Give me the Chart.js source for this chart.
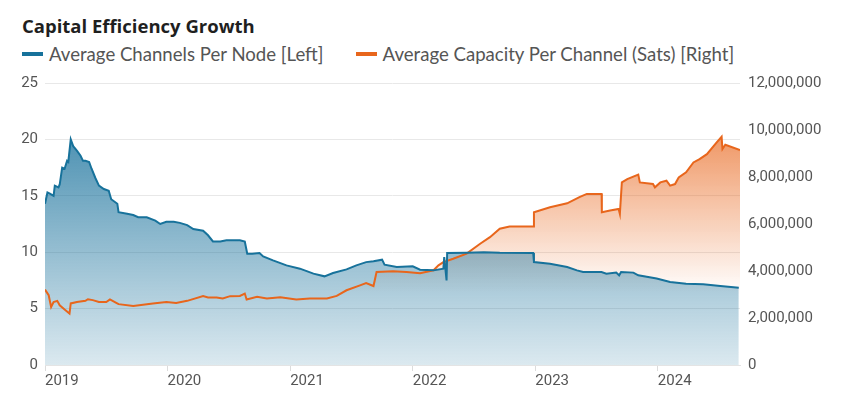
<!DOCTYPE html>
<html>
<head>
<meta charset="utf-8">
<script src="https://cdn.jsdelivr.net/npm/chart.js@4"></script>
<style>
  html, body { margin: 0; padding: 0; background: #fff; }
  #page { position: relative; width: 848px; height: 396px; overflow: hidden; }
  #title { position: absolute; left: 22px; top: 13px; font: bold 18.5px 'Open Sans', sans-serif; color: #1f1f1f; white-space: nowrap; }
  #legend { position: absolute; left: 22px; top: 43px; display: flex; font: 18.6px 'Lato', sans-serif; color: #555; white-space: nowrap; }
  .item { display: flex; align-items: center; margin-right: 32px; }
  .swatch { width: 21px; height: 4px; margin-right: 6px; }
  #wrap { position: absolute; left: 0; top: 66px; width: 848px; height: 330px; }
</style>
</head>
<body>
<div id="page">
  <div id="title">Capital Efficiency Growth</div>
  <div id="legend"></div>
  <div id="wrap"><canvas id="chart"></canvas></div>
</div>
<script>
// values (x = decimal year)
const channelYears = [2019.00, 2019.02, 2019.04, 2019.07, 2019.08, 2019.11, 2019.12, 2019.14, 2019.16, 2019.18, 2019.19, 2019.21,
  2019.23, 2019.26, 2019.29, 2019.31, 2019.33, 2019.36, 2019.38, 2019.41, 2019.44, 2019.48, 2019.52, 2019.54, 2019.59, 2019.60,
  2019.67, 2019.72, 2019.76, 2019.83, 2019.90, 2019.94, 2019.99, 2020.05, 2020.10, 2020.16, 2020.21, 2020.29, 2020.33, 2020.37,
  2020.43, 2020.48, 2020.59, 2020.63, 2020.65, 2020.69, 2020.75, 2020.78, 2020.86, 2020.97, 2021.08, 2021.19, 2021.28, 2021.35,
  2021.46, 2021.54, 2021.62, 2021.68, 2021.75, 2021.77, 2021.87, 2022.00, 2022.06, 2022.17, 2022.25, 2022.257, 2022.276, 2022.281,
  2022.44, 2022.58, 2022.71, 2022.983, 2022.989, 2023.12, 2023.26, 2023.34, 2023.39, 2023.54, 2023.58, 2023.66, 2023.684, 2023.70,
  2023.80, 2023.84, 2023.99, 2024.10, 2024.23, 2024.37, 2024.51, 2024.66];
const channelValues = [14.3, 15.3, 15.2, 15.0, 15.9, 15.75, 16.0, 17.5, 17.4, 18.1, 18.0, 20.0,
  19.4, 19.0, 18.55, 18.1, 18.1, 18.0, 17.4, 16.6, 15.9, 15.6, 15.45, 14.7, 14.3, 13.55,
  13.4, 13.3, 13.1, 13.1, 12.8, 12.5, 12.7, 12.7, 12.6, 12.4, 12.05, 11.9, 11.5, 10.95,
  10.95, 11.05, 11.05, 10.95, 9.87, 9.87, 9.92, 9.63, 9.28, 8.83, 8.54, 8.1, 7.86, 8.15,
  8.48, 8.83, 9.12, 9.19, 9.34, 8.9, 8.68, 8.75, 8.45, 8.39, 8.54, 9.57, 7.5, 9.92,
  9.95, 10.0, 9.95, 9.92, 9.13, 8.98, 8.68, 8.39, 8.24, 8.24, 8.1, 8.19, 7.95, 8.24,
  8.19, 7.95, 7.66, 7.36, 7.21, 7.15, 7.0, 6.85];

const capacityYears = [2019.00, 2019.03, 2019.05, 2019.07, 2019.10, 2019.12, 2019.16, 2019.20, 2019.21, 2019.26, 2019.33, 2019.35,
  2019.39, 2019.44, 2019.50, 2019.53, 2019.57, 2019.60, 2019.72, 2019.88, 2019.99, 2020.07, 2020.16, 2020.29, 2020.33, 2020.40,
  2020.45, 2020.51, 2020.59, 2020.63, 2020.645, 2020.73, 2020.81, 2020.92, 2021.05, 2021.16, 2021.30, 2021.38, 2021.46, 2021.57,
  2021.62, 2021.68, 2021.705, 2021.84, 2021.95, 2022.06, 2022.17, 2022.21, 2022.25, 2022.33, 2022.44, 2022.55, 2022.63, 2022.71,
  2022.79, 2022.983, 2022.989, 2023.12, 2023.26, 2023.36, 2023.42, 2023.541, 2023.543, 2023.61, 2023.68, 2023.69, 2023.706, 2023.75,
  2023.84, 2023.853, 2023.96, 2023.976, 2024.02, 2024.07, 2024.10, 2024.14, 2024.17, 2024.23, 2024.29, 2024.34, 2024.40, 2024.48,
  2024.52, 2024.527, 2024.55, 2024.67];
const capacityValues = [3.21, 2.97, 2.47, 2.68, 2.73, 2.54, 2.36, 2.19, 2.62, 2.68, 2.73, 2.80,
  2.76, 2.68, 2.68, 2.79, 2.68, 2.59, 2.51, 2.62, 2.68, 2.64, 2.73, 2.93, 2.87, 2.87,
  2.83, 2.93, 2.94, 3.04, 2.79, 2.90, 2.83, 2.88, 2.79, 2.83, 2.83, 2.94, 3.18, 3.39,
  3.49, 3.36, 3.96, 3.99, 3.96, 3.90, 4.03, 4.24, 4.38, 4.52, 4.74, 5.16, 5.44, 5.80,
  5.89, 5.89, 6.50, 6.71, 6.88, 7.14, 7.28, 7.28, 6.50, 6.57, 6.64, 6.43, 7.77, 7.91,
  8.10, 7.77, 7.70, 7.56, 7.77, 7.84, 7.63, 7.70, 7.98, 8.20, 8.62, 8.76, 8.97, 9.47,
  9.71, 9.19, 9.37, 9.15].map(v => v * 1000000);

const yearTicks = [2019, 2020, 2021, 2022, 2023, 2024];

const BLUE = "#17729b";
const ORANGE = "#e8661c";
const tickFont = { family: "'Roboto', sans-serif", size: 15 };

function pts(xs, ys) {
  return xs.map((x, i) => ({ x: x, y: ys[i] }));
}

function blueFill(ctx) {
  const area = ctx.chart.chartArea;
  if (!area) return "rgba(23,114,155,0.4)";
  const g = ctx.chart.ctx.createLinearGradient(0, area.top, 0, area.bottom);
  g.addColorStop(0, "rgba(16,108,152,0.88)");
  g.addColorStop(1, "rgba(16,108,152,0.15)");
  return g;
}

function orangeFill(ctx) {
  const area = ctx.chart.chartArea;
  if (!area) return "rgba(232,102,28,0.3)";
  const g = ctx.chart.ctx.createLinearGradient(0, area.top, 0, area.bottom);
  g.addColorStop(0, "rgba(232,102,28,0.9)");
  g.addColorStop(0.75, "rgba(232,102,28,0)");
  return g;
}

const ctx = document.getElementById("chart").getContext("2d");
const chart = new Chart(ctx, {
  type: "line",
  data: {
    datasets: [
      {
        label: "Average Channels Per Node [Left]",
        data: pts(channelYears, channelValues),
        yAxisID: "y",
        borderColor: BLUE,
        backgroundColor: blueFill,
        borderWidth: 2,
        pointRadius: 0,
        fill: "origin",
        order: 1,
      },
      {
        label: "Average Capacity Per Channel (Sats) [Right]",
        data: pts(capacityYears, capacityValues),
        yAxisID: "y1",
        borderColor: ORANGE,
        backgroundColor: orangeFill,
        borderWidth: 2,
        pointRadius: 0,
        fill: "origin",
        order: 2,
      },
    ],
  },
  options: {
    responsive: true,
    maintainAspectRatio: false,
    animation: false,
    layout: { padding: { left: 22, right: 0, top: 16, bottom: 0 } },
    plugins: {
      filler: { drawTime: "beforeDatasetsDraw" },
      tooltip: { enabled: false },
      legend: { display: false },
    },
    scales: {
      x: {
        type: "linear",
        min: 2019,
        max: 2024.67,
        afterBuildTicks: (s) => { s.ticks = yearTicks.map(v => ({ value: v })); },
        ticks: {
          align: "start",
          color: "#555",
          font: tickFont,
          padding: 1,
          maxRotation: 0,
          callback: (v) => String(v),
        },
        grid: { drawOnChartArea: false, drawTicks: true, tickLength: 6, color: "#dcdcdc" },
        border: { color: "#e4e4e4" },
        afterFit: (s) => { s.height = 31; },
      },
      y: {
        position: "left",
        min: 0,
        max: 25,
        ticks: { stepSize: 5, color: "#555", font: tickFont, padding: 7 },
        grid: { color: "#e8e8e8", drawTicks: false },
        border: { display: false },
        afterFit: (s) => { s.width = 23; },
      },
      y1: {
        position: "right",
        min: 0,
        max: 12000000,
        ticks: {
          stepSize: 2000000,
          color: "#555",
          font: tickFont,
          padding: 8,
          callback: (v) => v.toLocaleString("en-US"),
        },
        grid: { drawOnChartArea: false, drawTicks: false },
        border: { display: false },
        afterFit: (s) => { s.width = 108; },
      },
    },
  },
});

// legend built from the chart's datasets
const legendEl = document.getElementById("legend");
chart.data.datasets.forEach((d) => {
  const item = document.createElement("div");
  item.className = "item";
  const sw = document.createElement("span");
  sw.className = "swatch";
  sw.style.background = d.borderColor;
  const txt = document.createElement("span");
  txt.textContent = d.label;
  item.appendChild(sw);
  item.appendChild(txt);
  legendEl.appendChild(item);
});
</script>
</body>
</html>
